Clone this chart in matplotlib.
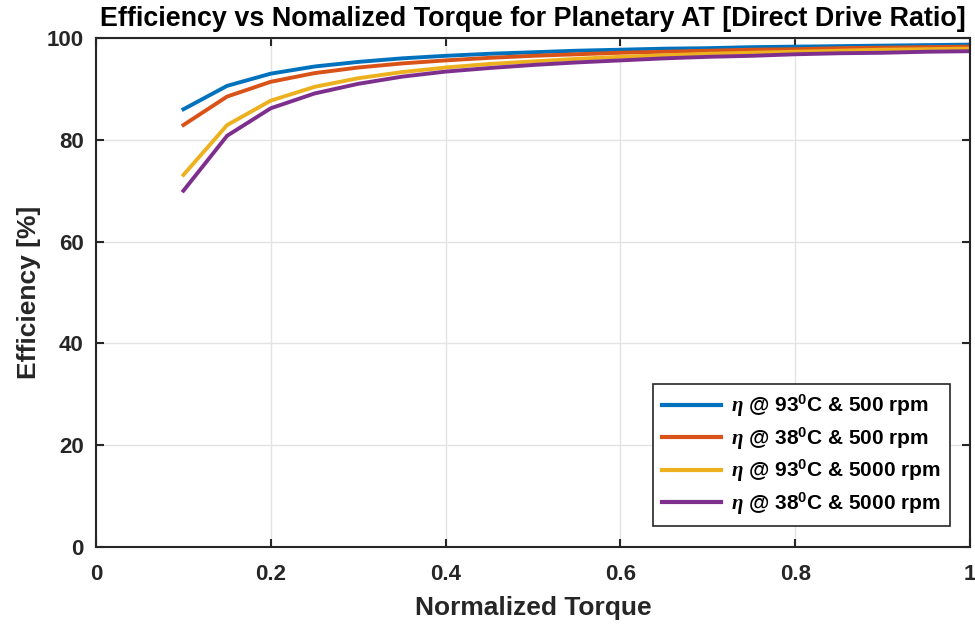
import matplotlib
matplotlib.use('Agg')
import matplotlib.pyplot as plt

plt.rcParams['font.family'] = ['Liberation Sans', 'DejaVu Sans']
plt.rcParams['font.weight'] = 'bold'
plt.rcParams['mathtext.fontset'] = 'custom'
plt.rcParams['mathtext.rm'] = 'Liberation Sans:bold'
plt.rcParams['mathtext.it'] = 'Liberation Serif:italic'
plt.rcParams['mathtext.bf'] = 'Liberation Sans:bold'

# normalized torque sample points
torque = [0.10, 0.15, 0.20, 0.25, 0.30, 0.35, 0.40, 0.45, 0.50, 0.55,
          0.60, 0.65, 0.70, 0.75, 0.80, 0.85, 0.90, 0.95, 1.00]

# efficiency [%] for each operating condition
eff_93c_500 = [86.0, 90.6, 93.0, 94.4, 95.3, 96.0, 96.5, 96.9, 97.2, 97.5,
               97.7, 97.9, 98.0, 98.2, 98.3, 98.4, 98.5, 98.6, 98.7]
eff_38c_500 = [82.9, 88.5, 91.4, 93.1, 94.2, 95.0, 95.6, 96.1, 96.5, 96.8,
               97.1, 97.3, 97.5, 97.7, 97.8, 98.0, 98.1, 98.2, 98.3]
eff_93c_5000 = [73.1, 82.9, 87.7, 90.4, 92.1, 93.3, 94.2, 94.9, 95.4, 95.9,
                96.3, 96.6, 96.9, 97.1, 97.3, 97.5, 97.7, 97.8, 97.9]
eff_38c_5000 = [70.0, 80.8, 86.2, 89.1, 91.0, 92.4, 93.4, 94.1, 94.7, 95.2,
                95.6, 96.0, 96.3, 96.5, 96.8, 97.0, 97.1, 97.3, 97.4]

labels = [r'$\eta$ @ 93$^0$C & 500 rpm',
          r'$\eta$ @ 38$^0$C & 500 rpm',
          r'$\eta$ @ 93$^0$C & 5000 rpm',
          r'$\eta$ @ 38$^0$C & 5000 rpm']
colors = ['#0072BD', '#D95319', '#EDB120', '#7E2F8E']

fig = plt.figure(figsize=(9.75, 6.26), dpi=100)
ax = fig.add_axes([0.0985, 0.1262, 0.8964, 0.8131])

for series, lab, col in zip([eff_93c_500, eff_38c_500, eff_93c_5000, eff_38c_5000],
                            labels, colors):
    ax.plot(torque, series, color=col, linewidth=2.8, label=lab)

ax.set_xlim(0, 1)
ax.set_ylim(0, 100)
ax.set_xticks([0, 0.2, 0.4, 0.6, 0.8, 1])
ax.set_xticklabels(['0', '0.2', '0.4', '0.6', '0.8', '1'])
ax.set_yticks([0, 20, 40, 60, 80, 100])
ax.grid(True, color='#e3e3e3', linewidth=1)
ax.set_axisbelow(True)
ax.tick_params(direction='in', top=True, right=True, length=6, width=1.5,
               labelsize=16, colors='#262626')
ax.tick_params(axis='x', pad=12)
ax.tick_params(axis='y', pad=9)
for sp in ax.spines.values():
    sp.set_linewidth(1.5)
    sp.set_color('#262626')

ax.set_title('Efficiency vs Nomalized Torque for Planetary AT [Direct Drive Ratio]',
             fontsize=19.4, fontweight='bold', pad=8.5)
ax.set_xlabel('Normalized Torque', fontsize=19, fontweight='bold', color='#262626',
              labelpad=8)
ax.set_ylabel('Efficiency [%]', fontsize=19, fontweight='bold', color='#262626',
              labelpad=4)

leg = ax.legend(loc='lower right', bbox_to_anchor=(0.977, 0.041), borderaxespad=0,
                fontsize=15, handlelength=2.8, handletextpad=0.5, fancybox=False,
                framealpha=1, edgecolor='#262626', borderpad=0.45, labelspacing=0.3)
leg.get_frame().set_linewidth(1.2)
for line in leg.get_lines():
    line.set_linewidth(3)

fig.savefig('out.png', dpi=100)
